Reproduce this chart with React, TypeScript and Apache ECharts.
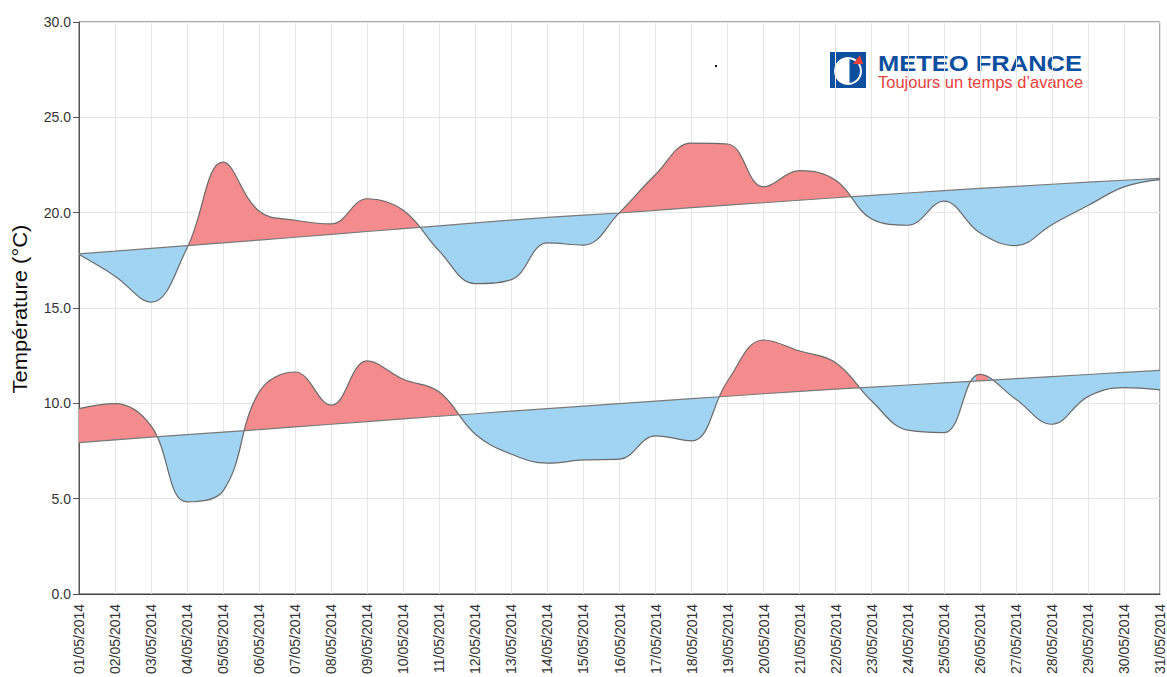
import React, { useEffect, useRef } from "react";
import * as echarts from "echarts";

const dates = [
  "01/05/2014", "02/05/2014", "03/05/2014", "04/05/2014", "05/05/2014", "06/05/2014",
  "07/05/2014", "08/05/2014", "09/05/2014", "10/05/2014", "11/05/2014", "12/05/2014",
  "13/05/2014", "14/05/2014", "15/05/2014", "16/05/2014", "17/05/2014", "18/05/2014",
  "19/05/2014", "20/05/2014", "21/05/2014", "22/05/2014", "23/05/2014", "24/05/2014",
  "25/05/2014", "26/05/2014", "27/05/2014", "28/05/2014", "29/05/2014", "30/05/2014",
  "31/05/2014",
];

const maxTemps = [
  17.8, 16.67, 15.3, 18.15, 22.65, 20.07, 19.6, 19.41, 20.73, 20.12, 17.98, 16.28,
  16.49, 18.41, 18.3, 20.0, 22.0, 23.65, 23.6, 21.35, 22.2, 21.7, 19.67, 19.34,
  20.6, 18.94, 18.27, 19.37, 20.37, 21.35, 21.73,
];
const maxNormals = [
  17.84, 17.98, 18.13, 18.27, 18.41, 18.56, 18.71, 18.86, 19.01, 19.16, 19.31, 19.46,
  19.61, 19.75, 19.87, 19.98, 20.12, 20.26, 20.39, 20.52, 20.65, 20.78, 20.91, 21.03,
  21.15, 21.27, 21.38, 21.49, 21.6, 21.7, 21.8,
];
const minTemps = [
  9.72, 9.98, 8.81, 4.83, 5.41, 10.59, 11.64, 9.9, 12.22, 11.26, 10.59, 8.38,
  7.33, 6.86, 7.03, 7.07, 8.29, 8.03, 11.17, 13.32, 12.74, 12.13, 10.12, 8.59,
  8.46, 11.52, 10.21, 8.9, 10.35, 10.82, 10.7,
];
const minNormals = [
  7.94, 8.08, 8.22, 8.36, 8.49, 8.62, 8.76, 8.9, 9.04, 9.18, 9.32, 9.45,
  9.59, 9.72, 9.85, 9.98, 10.11, 10.24, 10.37, 10.5, 10.62, 10.74, 10.85, 10.96,
  11.07, 11.18, 11.29, 11.4, 11.51, 11.62, 11.73,
];

const ABOVE = "#F48C8E";
const BELOW = "#A0D4F2";
const LINE = "#6a6a6a";
const FONT = "'Liberation Sans', Arial, sans-serif";

function diffs(actual: number[], normal: number[]) {
  return actual.map((v, i) => +(v - normal[i]).toFixed(3));
}

// Hard-stop horizontal gradient: red where the curve is above its normal, blue below.
function signFill(actual: number[], normal: number[]) {
  const d = diffs(actual, normal);
  const last = d.length - 1;
  const stops: { offset: number; color: string }[] = [];
  let sign = d[0] !== 0 ? Math.sign(d[0]) : Math.sign(d[1]);
  stops.push({ offset: 0, color: sign > 0 ? ABOVE : BELOW });
  for (let i = 0; i < last; i++) {
    const a = d[i];
    const b = d[i + 1];
    if (a * b < 0) {
      const off = (i + a / (a - b)) / last;
      stops.push({ offset: off, color: sign > 0 ? ABOVE : BELOW });
      sign = -sign;
      stops.push({ offset: off, color: sign > 0 ? ABOVE : BELOW });
    }
  }
  stops.push({ offset: 1, color: sign > 0 ? ABOVE : BELOW });
  return new echarts.graphic.LinearGradient(0, 0, 1, 0, stops);
}

function pair(name: string, actual: number[], normal: number[]) {
  return [
    {
      name: name + " normale",
      type: "line",
      stack: name,
      stackStrategy: "all",
      data: normal,
      symbol: "none",
      showSymbol: false,
      lineStyle: { color: "#7a7a7a", width: 1.2 },
      z: 4,
      silent: true,
    },
    {
      name: name,
      type: "line",
      stack: name,
      stackStrategy: "all",
      data: diffs(actual, normal),
      smooth: 0.4,
      symbol: "none",
      showSymbol: false,
      lineStyle: { color: LINE, width: 1.2 },
      areaStyle: { opacity: 1, color: signFill(actual, normal) },
      z: 3,
      silent: true,
    },
  ];
}

export default function App() {
  const ref = useRef<HTMLDivElement>(null);
  useEffect(() => {
    if (!ref.current) return;
    echarts.graphic.registerShape(
      "mfTri",
      echarts.graphic.extendPath("M0,9 L7,0 L10,9 Z", {}) as any
    );
    const chart = echarts.init(ref.current, null, { renderer: "svg" });
    chart.setOption({
      animation: false,
      backgroundColor: "#ffffff",
      grid: {
        left: 79,
        top: 22,
        right: 4,
        bottom: 82,
        show: true,
        borderColor: "#555",
        borderWidth: 1,
      },
      xAxis: {
        type: "category",
        boundaryGap: false,
        data: dates,
        axisLine: { lineStyle: { color: "#444" } },
        axisTick: { show: false },
        axisLabel: {
          rotate: 90,
          interval: 0,
          margin: 10,
          fontSize: 14,
          color: "#333",
          fontFamily: FONT,
        },
        splitLine: { show: true, interval: 0, lineStyle: { color: "#e6e6e6" } },
      },
      yAxis: {
        type: "value",
        min: 0,
        max: 30,
        interval: 5,
        axisLine: { show: true, lineStyle: { color: "#555" } },
        axisTick: { show: true, length: 6, lineStyle: { color: "#555" } },
        axisLabel: {
          formatter: (v: number) => v.toFixed(1),
          fontSize: 14,
          color: "#333",
          margin: 8,
          fontFamily: FONT,
        },
        splitLine: { lineStyle: { color: "#e6e6e6" } },
      },
      series: [...pair("max", maxTemps, maxNormals), ...pair("min", minTemps, minNormals)],
      graphic: [
        {
          type: "text",
          x: 20,
          y: 309,
          rotation: Math.PI / 2,
          scaleX: 1.1,
          style: {
            text: "Température (°C)",
            font: "20px 'Liberation Sans', Arial, sans-serif",
            fill: "#111",
            textAlign: "center",
            textVerticalAlign: "middle",
          },
        },
        { type: "rect", shape: { x: 830, y: 52, width: 36, height: 36 }, style: { fill: "#0b4f9e" } },
        { type: "circle", shape: { cx: 848, cy: 71, r: 14 }, style: { fill: "#ffffff" } },
        { type: "sector", shape: { cx: 848, cy: 71, r: 12, r0: 0, startAngle: -Math.PI / 2, endAngle: Math.PI / 2 }, style: { fill: "#0b4f9e" } },
        { type: "rect", shape: { x: 848, y: 58, width: 1.5, height: 26 }, style: { fill: "#ffffff" } },
        { type: "mfTri", x: 853, y: 55, style: { fill: "#e8413a" } },
        {
          type: "text",
          x: 878,
          y: 52,
          scaleX: 1.16,
          style: {
            text: "METEO FRANCE",
            font: "bold 22px 'Liberation Sans', Arial, sans-serif",
            fill: "#0b4f9e",
          },
        },
        {
          type: "text",
          x: 878,
          y: 74,
          scaleX: 1.03,
          style: {
            text: "Toujours un temps d\u2019avance",
            font: "16px 'Liberation Sans', Arial, sans-serif",
            fill: "#e8413a",
          },
        },
        { type: "rect", shape: { x: 715, y: 65, width: 2, height: 2 }, style: { fill: "#111" } },
      ],
    });
    return () => chart.dispose();
  }, []);
  return (
    <div
      ref={ref}
      style={{ position: "absolute", left: 0, top: 0, width: 1167, height: 677 }}
    />
  );
}
